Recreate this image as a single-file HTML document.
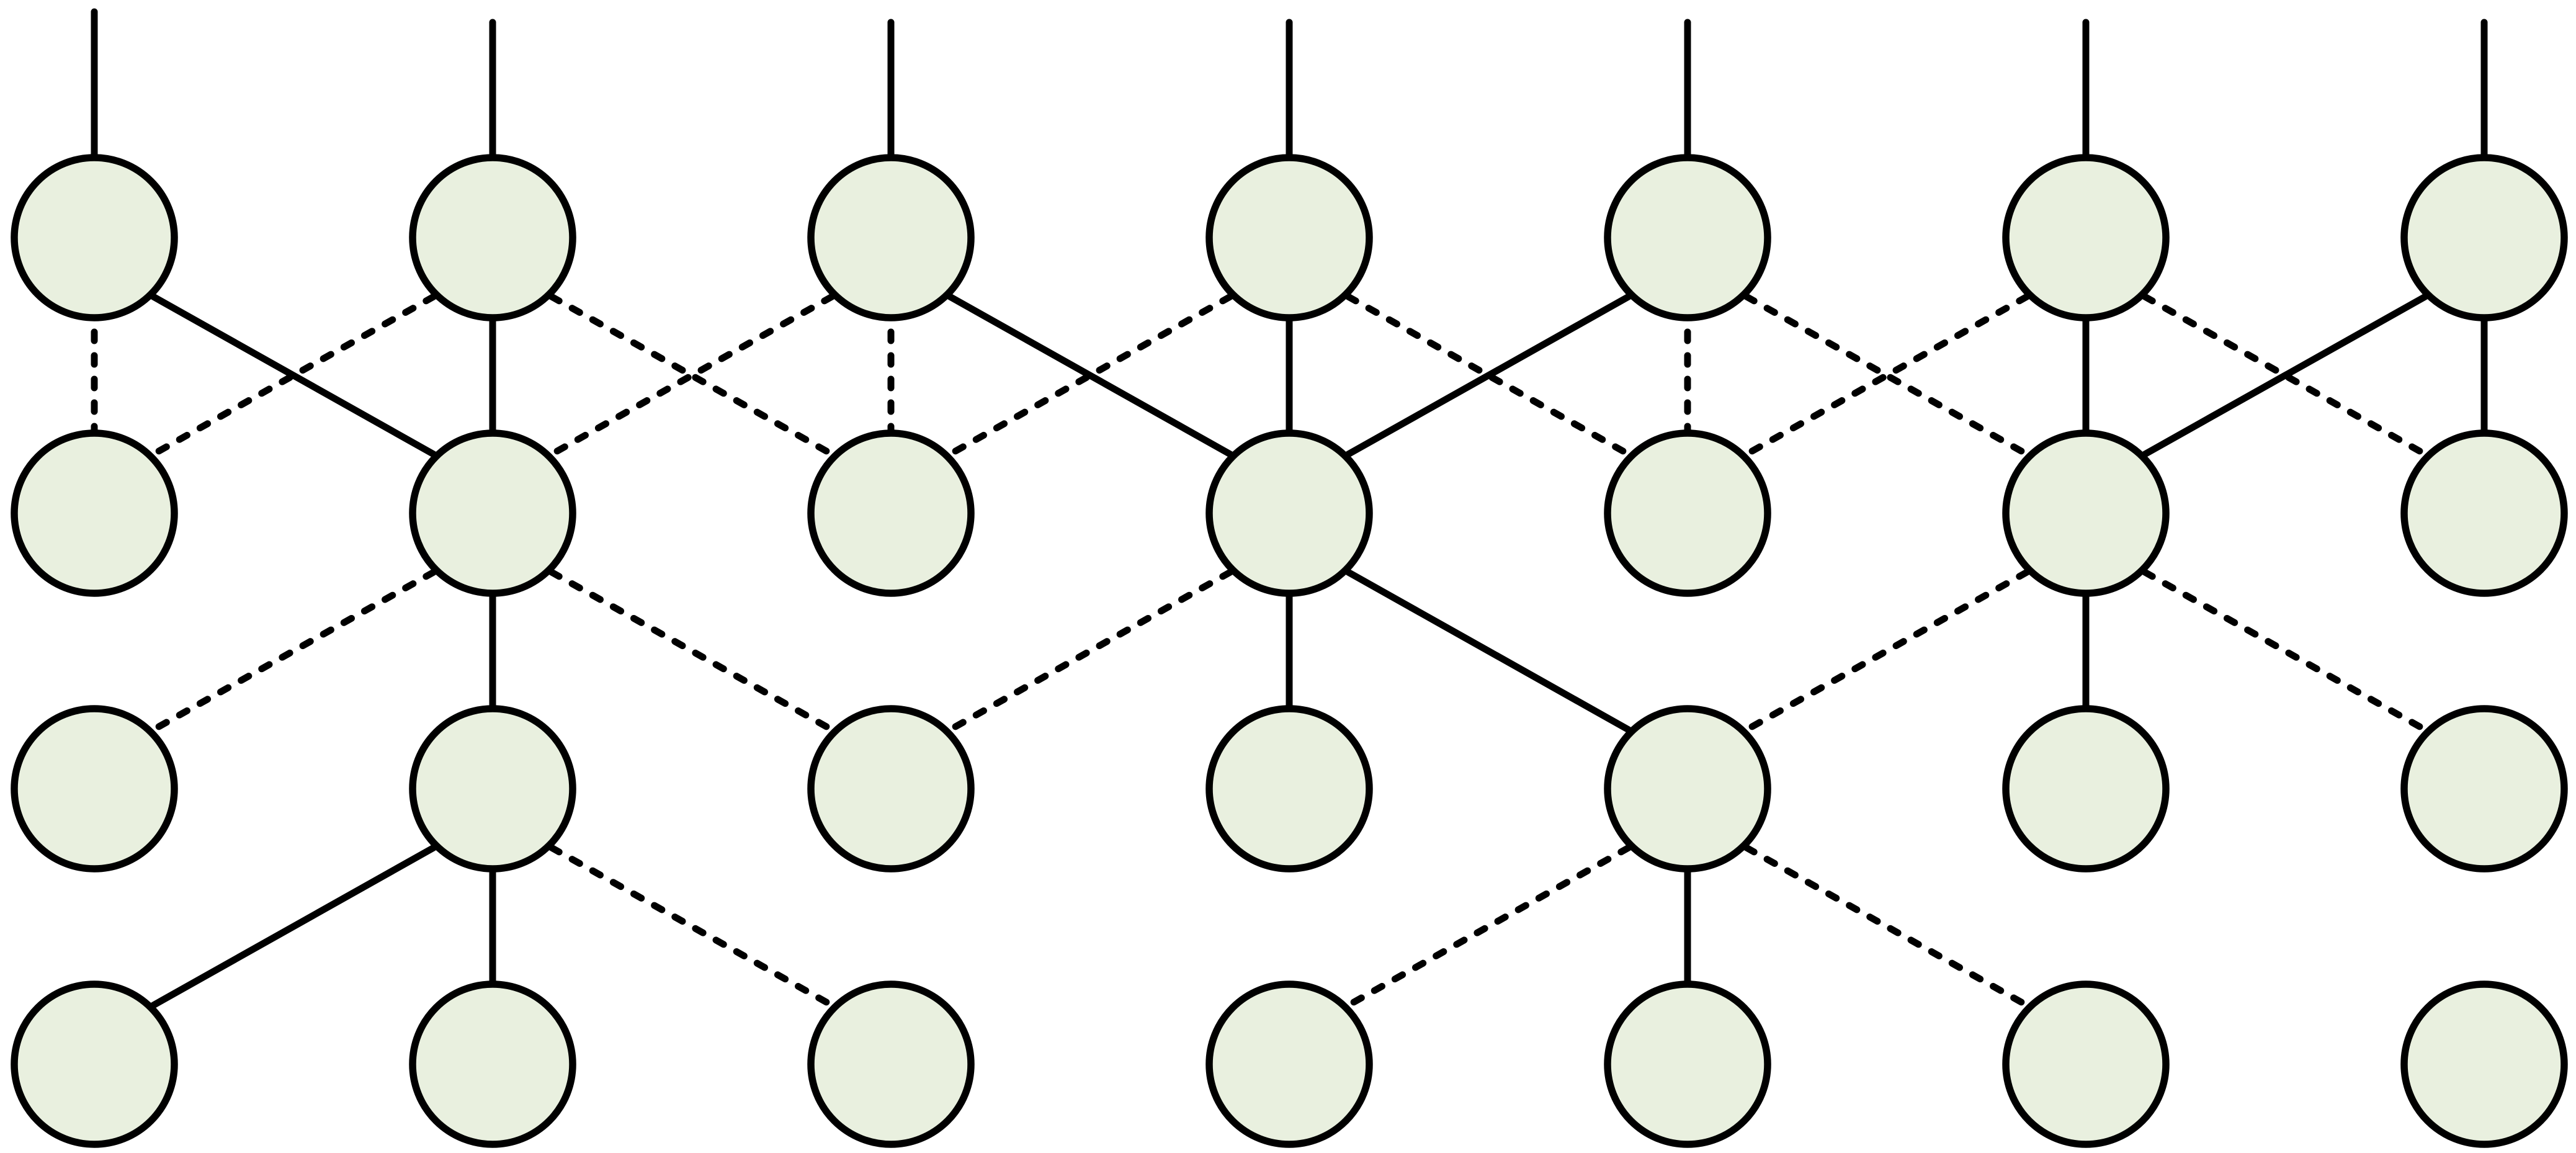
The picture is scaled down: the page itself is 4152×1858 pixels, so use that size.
<!DOCTYPE html>
<html><head><meta charset="utf-8"><style>html,body{margin:0;padding:0;background:#fff}svg{display:block}</style></head>
<body>
<svg width="4152" height="1858" viewBox="0 0 4152 1858" xmlns="http://www.w3.org/2000/svg">
<g stroke="#000" stroke-width="11" stroke-linecap="round" fill="none">
<line x1="152" y1="19" x2="152" y2="383"/>
<line x1="794" y1="36" x2="794" y2="383"/>
<line x1="1436" y1="36" x2="1436" y2="383"/>
<line x1="2078" y1="36" x2="2078" y2="383"/>
<line x1="2720" y1="36" x2="2720" y2="383"/>
<line x1="3362" y1="36" x2="3362" y2="383"/>
<line x1="4004" y1="36" x2="4004" y2="383"/>
<!-- solid verticals -->
<line x1="794" y1="383" x2="794" y2="827"/>
<line x1="2078" y1="383" x2="2078" y2="827"/>
<line x1="3362" y1="383" x2="3362" y2="827"/>
<line x1="4004" y1="383" x2="4004" y2="827"/>
<line x1="794" y1="827" x2="794" y2="1271"/>
<line x1="2078" y1="827" x2="2078" y2="1271"/>
<line x1="3362" y1="827" x2="3362" y2="1271"/>
<line x1="794" y1="1271" x2="794" y2="1715"/>
<line x1="2720" y1="1271" x2="2720" y2="1715"/>
<!-- solid diagonals -->
<line x1="247" y1="478" x2="699" y2="732"/>
<line x1="1531" y1="478" x2="1983" y2="732"/>
<line x1="2625" y1="478" x2="2173" y2="732"/>
<line x1="3909" y1="478" x2="3457" y2="732"/>
<line x1="2173" y1="922" x2="2625" y2="1176"/>
<line x1="699" y1="1366" x2="247" y2="1620"/>
</g>
<g stroke="#000" stroke-width="11" stroke-linecap="round" fill="none" stroke-dasharray="14 24">
<line x1="152" y1="383" x2="152" y2="827"/>
<line x1="1436" y1="383" x2="1436" y2="827"/>
<line x1="2720" y1="383" x2="2720" y2="827"/>
<!-- row0->row1 -->
<line x1="699" y1="478" x2="247" y2="732"/>
<line x1="889" y1="478" x2="1341" y2="732"/>
<line x1="1341" y1="478" x2="889" y2="732"/>
<line x1="1983" y1="478" x2="1531" y2="732"/>
<line x1="2173" y1="478" x2="2625" y2="732"/>
<line x1="2815" y1="478" x2="3267" y2="732"/>
<line x1="3267" y1="478" x2="2815" y2="732"/>
<line x1="3457" y1="478" x2="3909" y2="732"/>
<!-- row1->row2 -->
<line x1="699" y1="922" x2="247" y2="1176"/>
<line x1="889" y1="922" x2="1341" y2="1176"/>
<line x1="1983" y1="922" x2="1531" y2="1176"/>
<line x1="3267" y1="922" x2="2815" y2="1176"/>
<line x1="3457" y1="922" x2="3909" y2="1176"/>
<!-- row2->row3 -->
<line x1="889" y1="1366" x2="1341" y2="1620"/>
<line x1="2625" y1="1366" x2="2173" y2="1620"/>
<line x1="2815" y1="1366" x2="3267" y2="1620"/>
</g>
<g fill="#e9f0df" stroke="#000" stroke-width="11.5">
<circle cx="152" cy="383" r="129"/><circle cx="794" cy="383" r="129"/><circle cx="1436" cy="383" r="129"/><circle cx="2078" cy="383" r="129"/><circle cx="2720" cy="383" r="129"/><circle cx="3362" cy="383" r="129"/><circle cx="4004" cy="383" r="129"/>
<circle cx="152" cy="827" r="129"/><circle cx="794" cy="827" r="129"/><circle cx="1436" cy="827" r="129"/><circle cx="2078" cy="827" r="129"/><circle cx="2720" cy="827" r="129"/><circle cx="3362" cy="827" r="129"/><circle cx="4004" cy="827" r="129"/>
<circle cx="152" cy="1271" r="129"/><circle cx="794" cy="1271" r="129"/><circle cx="1436" cy="1271" r="129"/><circle cx="2078" cy="1271" r="129"/><circle cx="2720" cy="1271" r="129"/><circle cx="3362" cy="1271" r="129"/><circle cx="4004" cy="1271" r="129"/>
<circle cx="152" cy="1715" r="129"/><circle cx="794" cy="1715" r="129"/><circle cx="1436" cy="1715" r="129"/><circle cx="2078" cy="1715" r="129"/><circle cx="2720" cy="1715" r="129"/><circle cx="3362" cy="1715" r="129"/><circle cx="4004" cy="1715" r="129"/>
</g>
</svg>
</body></html>
